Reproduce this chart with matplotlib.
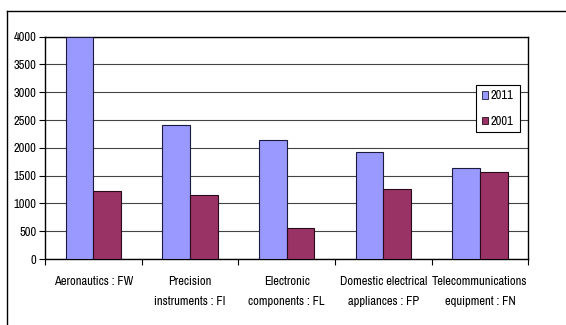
import numpy as np
import matplotlib
matplotlib.use('Agg')
import matplotlib.pyplot as plt
from matplotlib.lines import Line2D
from matplotlib.patches import Patch

plt.rcParams['font.family'] = ['Archivo Narrow', 'Liberation Sans', 'DejaVu Sans']

sectors = ['Aeronautics : FW', 'Precision\ninstruments : FI', 'Electronic\ncomponents : FL',
           'Domestic electrical\nappliances : FP', 'Telecommunications\nequipment : FN']
v2011 = [4000, 2420, 2150, 1925, 1630]
v2001 = [1230, 1150, 560, 1255, 1570]

W, H = 566, 325
fig = plt.figure(figsize=(W/100, H/100), dpi=100)
ax = fig.add_axes([45/W, 1-259/H, 483.3/W, 222.3/H])

x = np.arange(len(sectors))
bw = 1/3.5
ax.bar(x-bw/2, v2011, bw, color='#9999FF', edgecolor='#1a1a40', lw=0.8, zorder=3)
ax.bar(x+bw/2, v2001, bw, color='#993366', edgecolor='#2a0a1a', lw=0.8, zorder=3)

ax.set_xlim(-0.5, 4.5); ax.set_ylim(0, 4000)
ax.set_yticks(range(0, 4001, 500))
ax.yaxis.grid(True, color='#444444', lw=0.8, zorder=0)
ax.set_xticks(x); ax.set_xticklabels(sectors, fontsize=9, va='top', linespacing=2.05)
ax.set_xticks(np.arange(-0.5, 5, 1), minor=True)
ax.tick_params(axis='x', which='major', length=0, pad=12)
ax.tick_params(axis='x', which='minor', length=4, width=0.8, direction='out')
ax.tick_params(axis='y', length=4, width=0.8, direction='out', labelsize=9, pad=2)
for s in ax.spines.values():
    s.set_linewidth(1.0); s.set_color('black')

leg = ax.legend(handles=[Patch(fc='#9999FF', ec='#1a1a40', lw=0.6, label='2011'),
                         Patch(fc='#993366', ec='#2a0a1a', lw=0.6, label='2001')],
                loc='upper left', bbox_to_anchor=((476-45)/483.3, (259-84.7)/222.3),
                borderaxespad=0, fancybox=False, edgecolor='black', framealpha=1,
                fontsize=9, handlelength=0.55, handleheight=0.55, handletextpad=0.2,
                labelspacing=1.15, borderpad=0.45)
leg.get_frame().set_linewidth(0.8)
leg.set_zorder(5)

# outer chart frame (left and top edges)
fig.add_artist(Line2D([7/W, 7/W], [0, 1-11/H], color='black', lw=1.0))
fig.add_artist(Line2D([7/W, 1], [1-11/H, 1-11/H], color='black', lw=1.0))

fig.savefig('out.png', dpi=100)
